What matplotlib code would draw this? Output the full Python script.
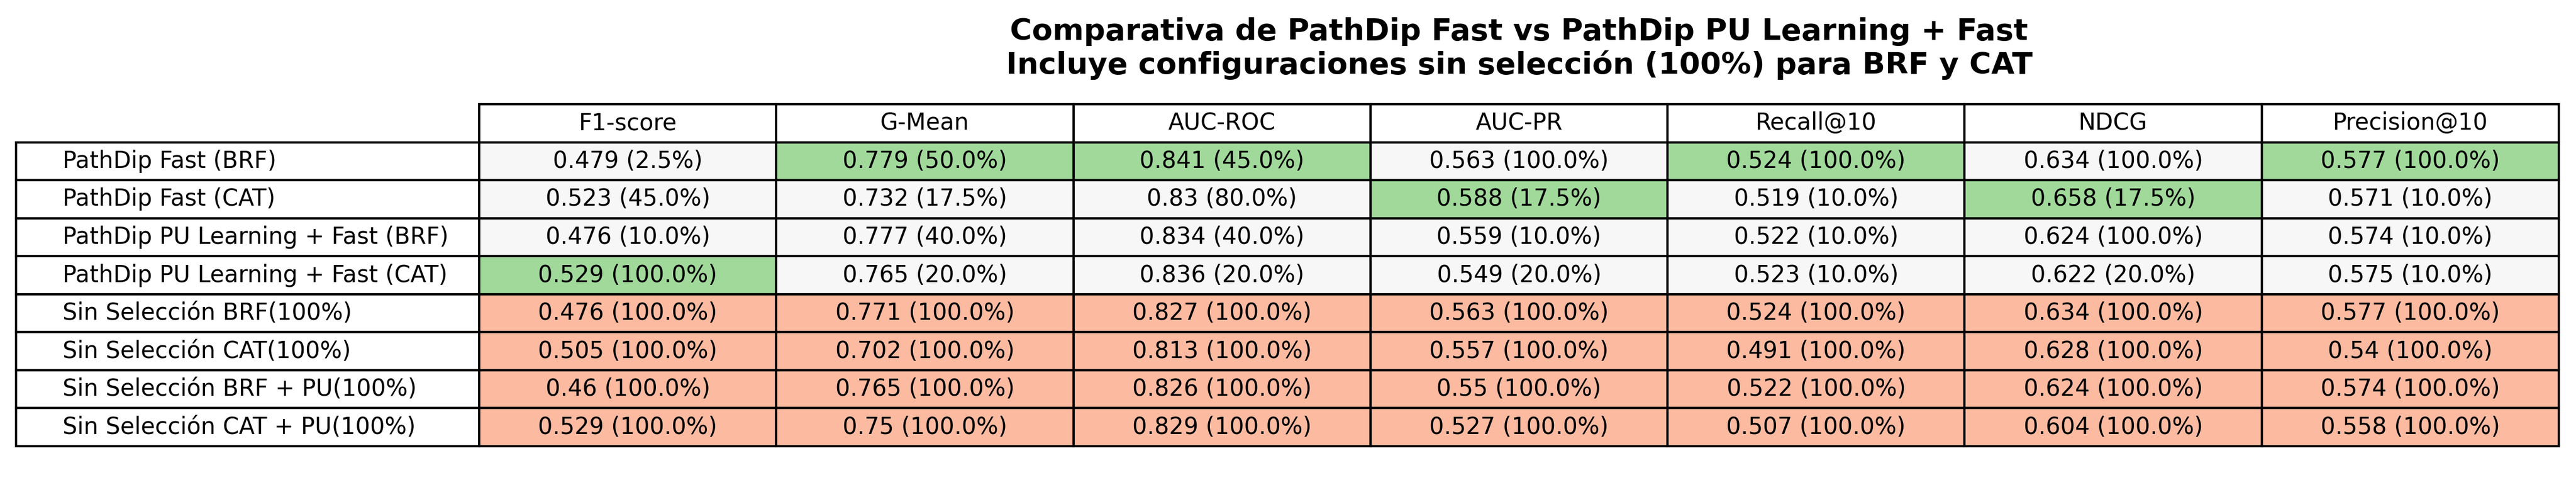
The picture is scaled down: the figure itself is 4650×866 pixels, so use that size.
import matplotlib
matplotlib.use("Agg")
import matplotlib.pyplot as plt
from matplotlib.table import Table

# datos de la tabla
metrics = ["F1-score", "G-Mean", "AUC-ROC", "AUC-PR", "Recall@10", "NDCG", "Precision@10"]
configs = ["PathDip Fast (BRF)", "PathDip Fast (CAT)",
           "PathDip PU Learning + Fast (BRF)", "PathDip PU Learning + Fast (CAT)",
           "Sin Selección BRF(100%)", "Sin Selección CAT(100%)",
           "Sin Selección BRF + PU(100%)", "Sin Selección CAT + PU(100%)"]

f1_score = [0.479, 0.523, 0.476, 0.529, 0.476, 0.505, 0.46, 0.529]
g_mean = [0.779, 0.732, 0.777, 0.765, 0.771, 0.702, 0.765, 0.75]
auc_roc = [0.841, 0.83, 0.834, 0.836, 0.827, 0.813, 0.826, 0.829]
auc_pr = [0.563, 0.588, 0.559, 0.549, 0.563, 0.557, 0.55, 0.527]
recall10 = [0.524, 0.519, 0.522, 0.523, 0.524, 0.491, 0.522, 0.507]
ndcg = [0.634, 0.658, 0.624, 0.622, 0.634, 0.628, 0.624, 0.604]
precision10 = [0.577, 0.571, 0.574, 0.575, 0.577, 0.54, 0.574, 0.558]

# porcentaje de features seleccionadas
f1_pct = [2.5, 45.0, 10.0, 100.0, 100.0, 100.0, 100.0, 100.0]
g_mean_pct = [50.0, 17.5, 40.0, 20.0, 100.0, 100.0, 100.0, 100.0]
auc_roc_pct = [45.0, 80.0, 40.0, 20.0, 100.0, 100.0, 100.0, 100.0]
auc_pr_pct = [100.0, 17.5, 10.0, 20.0, 100.0, 100.0, 100.0, 100.0]
recall10_pct = [100.0, 10.0, 10.0, 10.0, 100.0, 100.0, 100.0, 100.0]
ndcg_pct = [100.0, 17.5, 100.0, 20.0, 100.0, 100.0, 100.0, 100.0]
precision10_pct = [100.0, 10.0, 10.0, 10.0, 100.0, 100.0, 100.0, 100.0]

title_lines = ["Comparativa de PathDip Fast vs PathDip PU Learning + Fast",
               "Incluye configuraciones sin selección (100%) para BRF y CAT"]

values = [f1_score, g_mean, auc_roc, auc_pr, recall10, ndcg, precision10]
pcts = [f1_pct, g_mean_pct, auc_roc_pct, auc_pr_pct, recall10_pct, ndcg_pct, precision10_pct]
n_sel = 4  # filas con seleccion

W, H = 4650, 866
fig = plt.figure(figsize=(W / 300, H / 300), dpi=300)
ax = fig.add_axes([0, 0, 1, 1])
ax.axis("off")

# bbox solo cubre la rejilla (cabecera + datos); las etiquetas quedan a la izquierda
left, right, top, bottom = 865, 4619, 188, 805
tbl = Table(ax, bbox=[left / W, 1 - bottom / H, (right - left) / W, (bottom - top) / H])
label_w = 836 / W
col_w = (right - left) / len(metrics) / W
row_h = (bottom - top) / (len(configs) + 1) / H

for j, m in enumerate(metrics):
    tbl.add_cell(0, j, col_w, row_h, text=m, loc="center", facecolor="white")

for i, name in enumerate(configs):
    tbl.add_cell(i + 1, -1, label_w, row_h, text=name, loc="left", facecolor="white")
    for j in range(len(metrics)):
        v = values[j][i]
        txt = "{} ({:.1f}%)".format(v, pcts[j][i])
        if i >= n_sel:
            color = "#fcbba1"
        elif v == max(values[j][:n_sel]):
            color = "#a1d99b"
        else:
            color = "#f7f7f7"
        tbl.add_cell(i + 1, j, col_w, row_h, text=txt, loc="center", facecolor=color)

tbl.auto_set_font_size(False)
tbl.set_fontsize(10)
ax.add_table(tbl)

# titulo en dos lineas (baselines medidas)
for line, base in zip(title_lines, [72, 133]):
    fig.text(2742 / W, 1 - base / H, line, ha="center", va="baseline",
             fontsize=13, fontweight="bold")

fig.savefig("out.png", dpi=300)
